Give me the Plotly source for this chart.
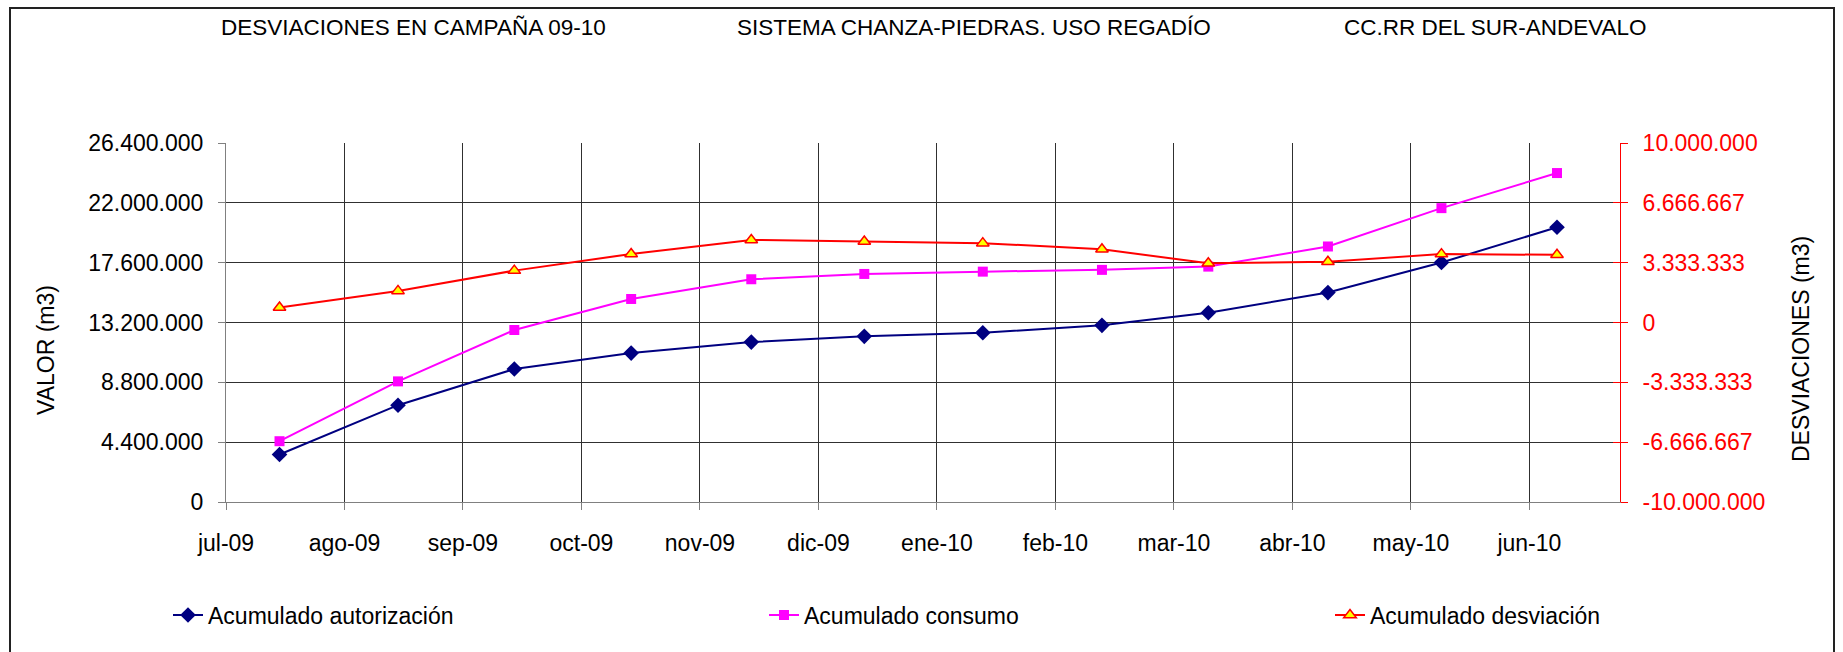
import calendar
import datetime as dt
import plotly.graph_objects as go

# --- data -------------------------------------------------------------
meses = ["jul-09", "ago-09", "sep-09", "oct-09", "nov-09", "dic-09",
         "ene-10", "feb-10", "mar-10", "abr-10", "may-10", "jun-10"]

fechas_lectura = ["2009-07-15", "2009-08-15", "2009-09-14", "2009-10-14",
                  "2009-11-14", "2009-12-13", "2010-01-13", "2010-02-12",
                  "2010-03-10", "2010-04-10", "2010-05-09", "2010-06-08"]

acumulado_autorizacion = [3490000, 7120000, 9780000, 10950000, 11760000, 12180000,
                          12450000, 12990000, 13920000, 15400000, 17610000, 20200000]
acumulado_consumo = [4470000, 8870000, 12650000, 14930000, 16380000, 16770000,
                     16940000, 17070000, 17310000, 18790000, 21610000, 24190000]
acumulado_desviacion = [840000, 1760000, 2890000, 3820000, 4600000, 4510000,
                        4420000, 4080000, 3300000, 3380000, 3810000, 3770000]

ticks_valor = [0, 4400000, 8800000, 13200000, 17600000, 22000000, 26400000]
ticks_desviacion = [-10000000 + i * 20000000 / 6 for i in range(7)]

# --- helpers ----------------------------------------------------------
def posicion_mes(fecha):
    """Month index (jul-09 = 0) plus the fraction of the month elapsed."""
    d = dt.date.fromisoformat(fecha)
    idx = (d.year - 2009) * 12 + d.month - 7
    dias = calendar.monthrange(d.year, d.month)[1]
    return idx + (d.day - 1) / dias


def miles(v):
    return f"{v:,.0f}".replace(",", ".")


x_pos = [posicion_mes(f) for f in fechas_lectura]

FONT = "Arial, Liberation Sans, sans-serif"
NAVY = "#000080"
MAGENTA = "#FF00FF"
RED = "#FF0000"
YELLOW = "#FFFF00"
GRID = "#303030"
AXIS = "#808080"

fig = go.Figure()

fig.add_trace(go.Scatter(
    x=x_pos, y=acumulado_autorizacion, name="Acumulado autorización",
    mode="lines+markers", line=dict(color=NAVY, width=2),
    marker=dict(symbol="diamond", size=12, color=NAVY),
    legend="legend",
))
fig.add_trace(go.Scatter(
    x=x_pos, y=acumulado_consumo, name="Acumulado consumo",
    mode="lines+markers", line=dict(color=MAGENTA, width=2),
    marker=dict(symbol="square", size=10, color=MAGENTA),
    legend="legend2",
))
fig.add_trace(go.Scatter(
    x=x_pos, y=acumulado_desviacion, name="Acumulado desviación",
    mode="lines+markers", line=dict(color=RED, width=2),
    marker=dict(symbol="triangle-up", size=11, color=YELLOW,
                line=dict(color=RED, width=1.5)),
    yaxis="y2", legend="legend3",
))
# carrier for the inner tick marks of the secondary axis
fig.add_trace(go.Scatter(x=[None], y=[None], yaxis="y3", showlegend=False,
                         hoverinfo="skip"))

W, H = 1843, 652
L, R, T, B = 226, 223, 143, 150
pw, ph = W - L - R, H - T - B


def px_x(px):
    return (px - L) / pw


def px_y(py):
    return (H - B - py) / ph


fig.update_layout(
    width=W, height=H,
    margin=dict(l=L, r=R, t=T, b=B),
    paper_bgcolor="white", plot_bgcolor="white",
    font=dict(family=FONT, size=23, color="black"),
    xaxis=dict(
        range=[0, 11.765], tickmode="array", tickvals=list(range(12)),
        ticktext=meses, showgrid=True, gridcolor=GRID, gridwidth=1,
        showline=True, linecolor=AXIS, linewidth=1,
        ticks="outside", ticklen=7, tickcolor=AXIS,
        zeroline=False, ticklabelstandoff=13,
    ),
    yaxis=dict(
        range=[0, 26400000], tickmode="array", tickvals=ticks_valor,
        ticktext=[miles(v) for v in ticks_valor],
        showgrid=True, gridcolor=GRID, gridwidth=1,
        showline=True, linecolor=AXIS, linewidth=1,
        ticks="outside", ticklen=7, tickcolor=AXIS,
        zeroline=False, ticklabelstandoff=10,
    ),
    yaxis2=dict(
        range=[-10000000, 10000000], overlaying="y", side="right",
        tickmode="array", tickvals=ticks_desviacion,
        ticktext=[miles(v) for v in ticks_desviacion],
        tickfont=dict(color=RED), showgrid=False, zeroline=False,
        showline=True, linecolor=RED, linewidth=1,
        ticks="outside", ticklen=7, tickcolor=RED, ticklabelstandoff=10,
    ),
    yaxis3=dict(
        range=[-10000000, 10000000], overlaying="y", side="right",
        tickmode="array", tickvals=ticks_desviacion, showticklabels=False,
        showgrid=False, zeroline=False, showline=False,
        ticks="inside", ticklen=7, tickcolor=RED,
    ),
    showlegend=True,
)

leg = dict(orientation="h", yanchor="middle", xanchor="left",
           bgcolor="rgba(0,0,0,0)", borderwidth=0,
           font=dict(family=FONT, size=23, color="black"))
fig.update_layout(
    legend=dict(leg, x=px_x(168), y=px_y(615)),
    legend2=dict(leg, x=px_x(764), y=px_y(615)),
    legend3=dict(leg, x=px_x(1330), y=px_y(615)),
)

# headings across the top
titulos = [("DESVIACIONES EN CAMPAÑA 09-10", 413),
           ("SISTEMA CHANZA-PIEDRAS. USO REGADÍO", 974),
           ("CC.RR DEL SUR-ANDEVALO", 1495)]
for texto, cx in titulos:
    fig.add_annotation(text=texto, x=px_x(cx), y=px_y(28), xref="paper",
                       yref="paper", showarrow=False, xanchor="center",
                       yanchor="middle", font=dict(size=22.5))

# axis titles
fig.add_annotation(text="VALOR (m3)", x=px_x(46), y=px_y(350), xref="paper",
                   yref="paper", showarrow=False, textangle=-90,
                   xanchor="center", yanchor="middle")
fig.add_annotation(text="DESVIACIONES (m3)", x=px_x(1801), y=px_y(349),
                   xref="paper", yref="paper", showarrow=False, textangle=-90,
                   xanchor="center", yanchor="middle")

# chart frame
fig.add_shape(type="rect", xref="paper", yref="paper",
              x0=px_x(10), x1=px_x(1834), y0=px_y(670), y1=px_y(8),
              line=dict(color="#222222", width=2), layer="below")

fig.write_html("out.html")
